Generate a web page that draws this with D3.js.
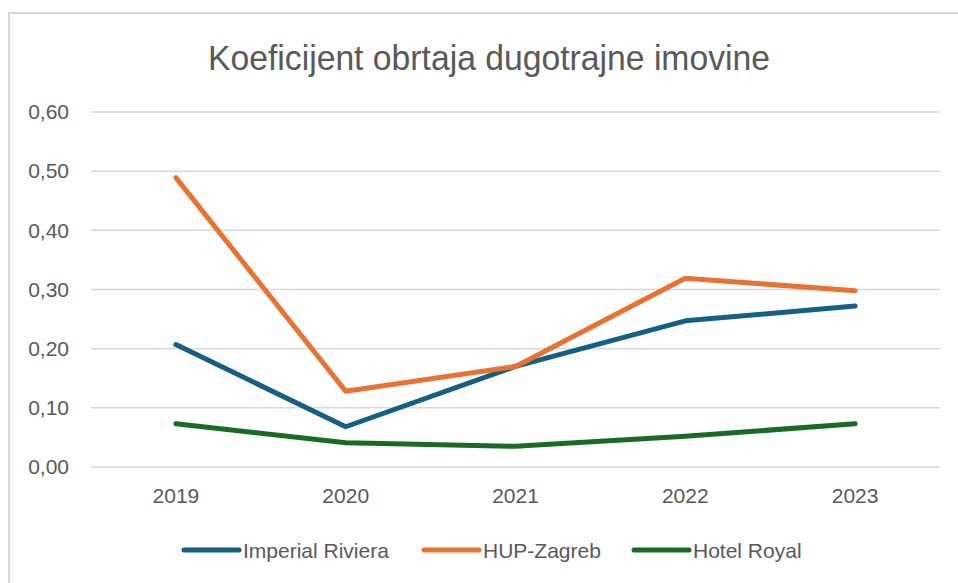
<!DOCTYPE html>
<html><head><meta charset="utf-8">
<script src="https://cdn.jsdelivr.net/npm/d3@7"></script>
<style>html,body{margin:0;padding:0;background:#fff;}svg{display:block;}</style>
</head><body>
<svg id="c" width="958" height="583"></svg>
<script>
const years = ["2019","2020","2021","2022","2023"];
const imperialRiviera = [0.207, 0.068, 0.170, 0.247, 0.272];
const hupZagreb = [0.489, 0.128, 0.170, 0.319, 0.298];
const hotelRoyal = [0.073, 0.041, 0.035, 0.052, 0.073];
const yTicks = [0, 0.1, 0.2, 0.3, 0.4, 0.5, 0.6];
const seriesNames = ["Imperial Riviera", "HUP-Zagreb", "Hotel Royal"];
const seriesColors = ["#156082", "#E97132", "#196B24"];
const title = "Koeficijent obrtaja dugotrajne imovine";

const series = [imperialRiviera, hupZagreb, hotelRoyal].map((v, i) => ({name: seriesNames[i], color: seriesColors[i], values: v}));

const svg = d3.select("#c");
// outer chart border
svg.append("rect").attr("x", 9).attr("y", 13).attr("width", 980).attr("height", 600)
  .attr("fill", "#fff").attr("stroke", "#d9d9d9").attr("stroke-width", 2);

const pL = 91, pR = 940, pT = 112, pB = 467;
const x = d3.scaleBand().domain(years).range([pL, pR]);
const y = d3.scaleLinear().domain([0, 0.6]).range([pB, pT]);

// gridlines
svg.append("g").selectAll("line").data(yTicks).join("line")
  .attr("x1", pL).attr("x2", pR)
  .attr("y1", d => y(d)).attr("y2", d => y(d))
  .attr("stroke", "#d9d9d9").attr("stroke-width", 1.5);

// y axis labels
const fmt = d => d3.format(".2f")(d).replace(".", ",");
const yAxis = d3.axisLeft(y).tickValues(yTicks).tickFormat(fmt).tickSize(0).tickPadding(22);
const gy = svg.append("g").attr("transform", `translate(${pL},0)`).call(yAxis);
gy.select(".domain").remove();
gy.selectAll("text").attr("font-family", "'Liberation Sans', Arial, sans-serif").attr("font-size", 21).attr("fill", "#595959");

// x axis labels
const xAxis = d3.axisBottom(x).tickSize(0).tickPadding(21);
const gx = svg.append("g").attr("transform", `translate(0,${pB})`).call(xAxis);
gx.select(".domain").remove();
gx.selectAll("text").attr("font-family", "'Liberation Sans', Arial, sans-serif").attr("font-size", 21).attr("fill", "#595959");

// lines
const line = d3.line().x((d, i) => x(years[i]) + x.bandwidth() / 2).y(d => y(d));
svg.append("g").selectAll("path").data(series).join("path")
  .attr("d", d => line(d.values))
  .attr("fill", "none").attr("stroke", d => d.color).attr("stroke-width", 5)
  .attr("stroke-linejoin", "round").attr("stroke-linecap", "round");

// title (condensed look)
svg.append("text").attr("x", 208).attr("y", 70)
  .attr("font-family", "'Liberation Sans', Arial, sans-serif")
  .attr("font-size", 35).attr("fill", "#595959")
  .attr("textLength", 562).attr("lengthAdjust", "spacingAndGlyphs")
  .text(title);

// legend
const legendX = [184, 424, 634];
const lg = svg.append("g").selectAll("g").data(series).join("g")
  .attr("transform", (d, i) => `translate(${legendX[i]},550)`);
lg.append("line").attr("x1", 0).attr("x2", 55).attr("y1", 0).attr("y2", 0)
  .attr("stroke", d => d.color).attr("stroke-width", 5).attr("stroke-linecap", "round");
lg.append("text").attr("x", 59).attr("y", 7.5)
  .attr("font-family", "'Liberation Sans', Arial, sans-serif")
  .attr("font-size", 21).attr("fill", "#595959").text(d => d.name);
</script>
</body></html>
